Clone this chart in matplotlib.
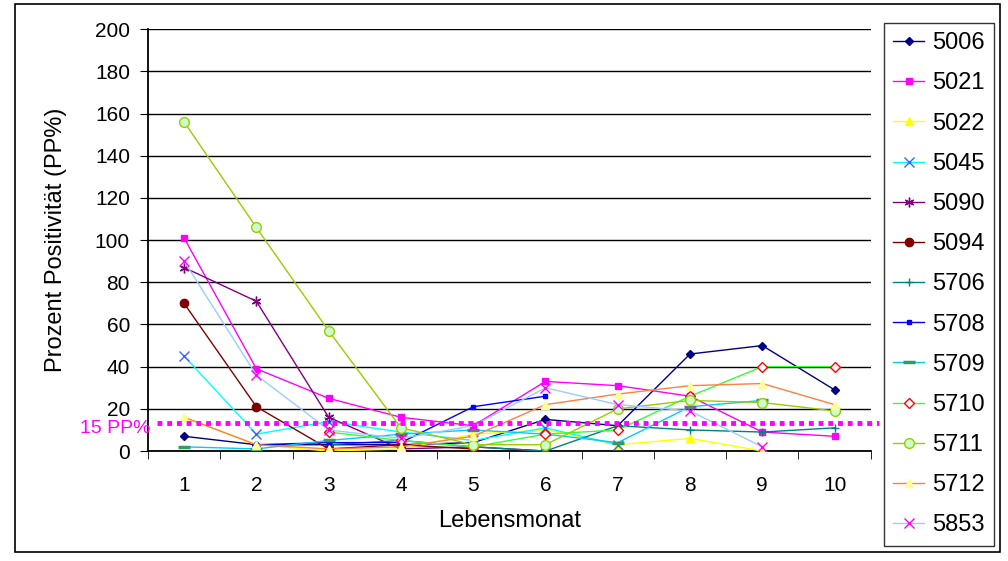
import matplotlib.pyplot as plt
import numpy as np
from matplotlib.patches import Rectangle

plt.rcParams['font.family'] = ['Liberation Sans', 'DejaVu Sans']

nan = np.nan
monate = np.arange(1, 11)

# Werte je Tier (PP%)
s5006 = [7, 3, 3, 3, 4, 15, 12, 46, 50, 29]
s5021 = [101, 39, 25, 16, 12, 33, 31, 26, 9, 7]
s5022 = [16, 3, 0, 1, 8, 10, 3, 6, 0, nan]
s5045 = [45, 8, 14, 9, 5, 11, 3, nan, nan, nan]
s5090 = [87, 71, 16, 1, 2, 0, nan, nan, nan, nan]
s5094 = [70, 21, 1, 3, 1, nan, nan, nan, nan, nan]
s5706 = [nan, nan, 3, 5, 2, 0, 12, 10, 9, 11]
s5708 = [nan, 3, 4, 4, 21, 26, nan, nan, nan, nan]
s5709 = [2, 1, 5, 8, 10, 8, 4, 21, 24, nan]
s5710 = [nan, nan, 9, 5, 2, 8, 10, 26, 40, 40]
s5711 = [156, 106, 57, 11, 3, 3, 20, 24, 23, 19]
s5712 = [16, 3, 1, 2, 7, 22, 27, 31, 32, 22]
s5853 = [90, 36, 10, 6, 12, 30, 22, 19, 2, nan]

grenze = 13.5

fig = plt.figure(figsize=(10.08, 5.61), dpi=100)
ax = fig.add_axes([0.1468, 0.196, 0.717, 0.752])

# Rahmen um die ganze Grafik
fig.patches.append(Rectangle((0.015, 0.016), 0.977, 0.976, transform=fig.transFigure,
                             fill=False, edgecolor='black', linewidth=1.2))

# (name, werte, linienfarbe, marker, markerfarbe, kante, groesse)
serien = [
    ('5006', s5006, '#000080', 'D', '#000080', '#000080', 4),
    ('5021', s5021, '#FF00FF', 's', '#FF00FF', '#FF00FF', 5),
    ('5022', s5022, '#FFFF00', '^', '#FFFF00', '#FFFF00', 6),
    ('5045', s5045, '#00FFFF', 'x', '#3366FF', '#3366FF', 7),
    ('5090', s5090, '#800080', (6, 2, 0), '#800080', '#800080', 7),
    ('5094', s5094, '#800000', 'o', '#800000', '#800000', 6),
    ('5706', s5706, '#008080', '+', '#008080', '#008080', 6),
    ('5708', s5708, '#0000FF', 's', '#0000FF', '#0000FF', 3),
    ('5709', s5709, '#00CCFF', '_', '#339966', '#339966', 9),
    ('5710', s5710, '#33FF33', 'D', 'white', '#FF0000', 5),
    ('5711', s5711, '#99CC00', 'o', '#CCFFCC', '#99CC00', 7),
    ('5712', s5712, '#FF8040', '^', '#FFFF99', '#FFFF99', 6),
    ('5853', s5853, '#99CCFF', 'x', '#FF00FF', '#FF00FF', 7),
]

for name, werte, lc, m, mf, me, ms in serien:
    ax.plot(monate, werte, color=lc, linewidth=1, marker=m, markersize=ms,
            markerfacecolor=mf, markeredgecolor=me,
            markeredgewidth=2.5 if m == '_' else 1, label=name, zorder=3)

# 15 PP% Grenzlinie
ax.plot([0.62, 10.62], [grenze, grenze], color='#FF00FF', linewidth=3.5,
        linestyle=(0, (1, 1)), clip_on=False, zorder=4)
ax.text(0.53, 10.5, '15 PP%', color='#FF00FF', fontsize=14, ha='right', va='center')

ax.set_xlim(0.5, 10.5)
ax.set_ylim(0, 200)
ax.set_yticks(np.arange(0, 201, 20))
ax.set_xticks(monate)
ax.set_xticks(np.arange(0.5, 10.6, 1), minor=True)
ax.tick_params(axis='x', which='major', length=0, pad=18, labelsize=15)
ax.tick_params(axis='x', which='minor', length=6, direction='out')
ax.tick_params(axis='y', length=6, direction='out', labelsize=15, pad=7)
ax.yaxis.grid(True, color='black', linewidth=1)
ax.set_axisbelow(True)
for sp in ['top', 'right']:
    ax.spines[sp].set_visible(False)
ax.spines['left'].set_linewidth(1.3)
ax.spines['bottom'].set_linewidth(1.3)

ax.set_xlabel('Lebensmonat', fontsize=17, labelpad=11)
ax.set_ylabel('Prozent Positivität (PP%)', fontsize=17, labelpad=20)

leg = ax.legend(loc='upper left', bbox_to_anchor=(1.018, 1.015), fontsize=17,
                frameon=True, fancybox=False, edgecolor='black', handlelength=1.3,
                labelspacing=0.77, borderpad=0.4, handletextpad=0.35,
                borderaxespad=0)
leg.get_frame().set_linewidth(1)

fig.savefig('out.png', dpi=100)
